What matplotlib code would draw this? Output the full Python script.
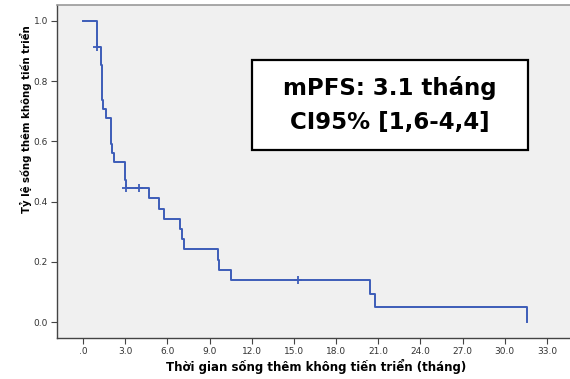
import matplotlib.pyplot as plt
from matplotlib.patches import Rectangle

# Kaplan-Meier steps
times = [0, 1.0, 1.26, 1.33, 1.45, 1.61, 1.97, 2.09, 2.23, 2.99, 3.08, 4.69, 5.38,
         5.78, 6.90, 7.02, 7.18, 9.58, 9.70, 10.50, 20.4, 20.8, 31.6]
surv = [1.0, 0.913, 0.854, 0.738, 0.709, 0.679, 0.590, 0.560, 0.532, 0.472, 0.444,
        0.411, 0.375, 0.342, 0.308, 0.275, 0.242, 0.206, 0.174, 0.140, 0.094, 0.050, 0.0]

# censored observations
cens_t = [1.0, 3.05, 3.98, 15.3]
cens_s = [0.913, 0.444, 0.444, 0.140]

xticks = [0, 3, 6, 9, 12, 15, 18, 21, 24, 27, 30, 33]
xtick_labels = [".0", "3.0", "6.0", "9.0", "12.0", "15.0", "18.0", "21.0",
                "24.0", "27.0", "30.0", "33.0"]
yticks = [0.0, 0.2, 0.4, 0.6, 0.8, 1.0]

line_col = "#3D5CB8"
W, H = 570, 379

fig = plt.figure(figsize=(5.7, 3.79), dpi=100)
ax = fig.add_axes([57 / W, 1 - 338 / H, 513 / W, 333 / H])
ax.set_facecolor("#F0F0F0")

ax.step(times, surv, where="post", color=line_col, lw=1.4)
ax.plot(cens_t, cens_s, "+", color=line_col, ms=6, mew=1.3)

ax.set_xlim(-1.85, 34.64)
ax.set_ylim(-0.053, 1.053)
ax.set_xticks(xticks)
ax.set_xticklabels(xtick_labels)
ax.set_yticks(yticks)
ax.set_yticklabels([f"{v:.1f}" for v in yticks])
ax.tick_params(labelsize=6.5, labelcolor="#333333", length=4, width=0.8,
               color="#444444", pad=2.5)

for side in ["left", "bottom"]:
    ax.spines[side].set_color("#444444")
    ax.spines[side].set_linewidth(1.0)
ax.spines["top"].set_color("#999999")
ax.spines["top"].set_linewidth(1.2)
ax.spines["right"].set_visible(False)

fig.text(316 / W, 1 - 367 / H, "Thời gian sống thêm không tiến triển (tháng)",
         ha="center", va="center", fontsize=8.5, fontweight="bold")
fig.text(26 / W, 1 - 119 / H, "Tỷ lệ sống thêm không tiến triển",
         ha="center", va="center", rotation=90, fontsize=7.3, fontweight="bold")

# annotation box
fig.patches.append(Rectangle((252 / W, 1 - 150 / H), 276 / W, 90 / H,
                             transform=fig.transFigure, fc="white", ec="black",
                             lw=1.6, zorder=5))
fig.text(390 / W, 1 - 105 / H, "mPFS: 3.1 tháng\nCI95% [1,6-4,4]",
         ha="center", va="center", fontsize=16.5, fontweight="bold",
         linespacing=1.6, zorder=6)

fig.savefig("out.png", dpi=100)
